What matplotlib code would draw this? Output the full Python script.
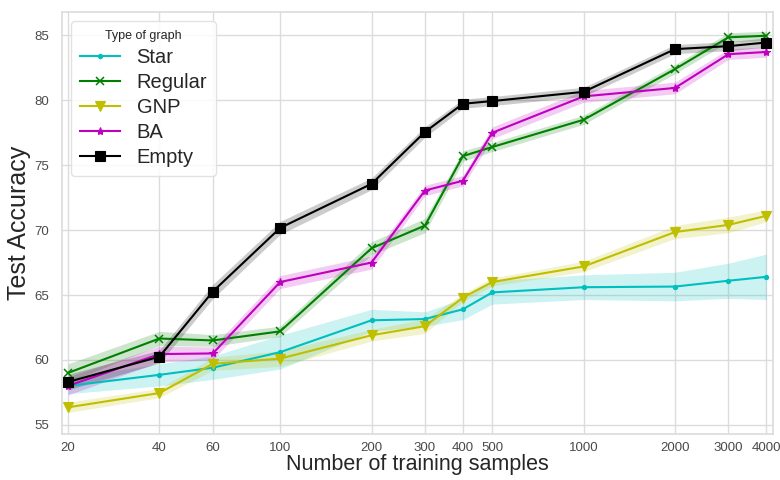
import matplotlib
matplotlib.use("Agg")
import matplotlib.pyplot as plt
from matplotlib.ticker import FixedLocator, FixedFormatter, NullLocator
import numpy as np

# Training-set sizes
n_samples = [20, 40, 60, 100, 200, 300, 400, 500, 1000, 2000, 3000, 4000]

# Mean test accuracy per graph type
star_mean = [58.0, 58.85, 59.4, 60.6, 63.05, 63.15, 63.9, 65.2, 65.6, 65.65, 66.1, 66.4]
regular_mean = [59.0, 61.65, 61.5, 62.2, 68.6, 70.35, 75.7, 76.4, 78.5, 82.4, 84.85, 84.97]
gnp_mean = [56.35, 57.45, 59.7, 60.1, 61.9, 62.6, 64.8, 66.0, 67.2, 69.85, 70.4, 71.1]
ba_mean = [58.0, 60.45, 60.5, 66.0, 67.5, 73.05, 73.8, 77.5, 80.3, 80.95, 83.55, 83.72]
empty_mean = [58.3, 60.25, 65.27, 70.17, 73.56, 77.56, 79.73, 79.94, 80.65, 83.94, 84.17, 84.45]

# Spread (half-width of the shaded band)
star_spread = [0.6, 0.85, 0.9, 1.3, 0.85, 0.55, 0.8, 0.9, 0.95, 1.1, 1.35, 1.75]
regular_spread = [0.7, 0.55, 0.45, 0.4, 0.5, 0.55, 0.4, 0.35, 0.35, 0.35, 0.35, 0.35]
gnp_spread = [0.4, 0.35, 0.5, 0.6, 0.45, 0.55, 0.3, 0.3, 0.4, 0.5, 0.6, 0.45]
ba_spread = [0.7, 0.6, 0.5, 0.5, 0.5, 0.4, 0.4, 0.45, 0.45, 0.45, 0.4, 0.4]
empty_spread = [0.6, 0.5, 0.55, 0.5, 0.45, 0.4, 0.35, 0.35, 0.35, 0.35, 0.35, 0.35]

labels = ["Star", "Regular", "GNP", "BA", "Empty"]
means = [star_mean, regular_mean, gnp_mean, ba_mean, empty_mean]
spreads = [star_spread, regular_spread, gnp_spread, ba_spread, empty_spread]
colors = ["c", "g", "y", "m", "k"]
markers = [".", "x", "v", "*", "s"]
msizes = [6, 6, 6.5, 6, 6.5]

plt.rcParams["font.family"] = ["Liberation Sans", "DejaVu Sans"]

fig = plt.figure(figsize=(7.8, 4.8), dpi=100)
ax = fig.add_axes([0.0795, 0.096, 0.912, 0.879])
ax.set_facecolor("white")

x = np.array(n_samples, dtype=float)
for lab, m, s, c, mk, ms in zip(labels, means, spreads, colors, markers, msizes):
    m = np.array(m)
    s = np.array(s)
    ax.fill_between(x, m - s, m + s, color=c, alpha=0.2, linewidth=0)
    ax.plot(x, m, color=c, marker=mk, markersize=ms, linewidth=1.5,
            markeredgewidth=1.1 if mk == "x" else 0.8, label=lab)

ax.set_xscale("log")
ax.set_xlim(19.1, 4220)
ax.set_ylim(54.3, 86.8)
ax.xaxis.set_major_locator(FixedLocator(n_samples))
ax.xaxis.set_major_formatter(FixedFormatter([str(v) for v in n_samples]))
ax.xaxis.set_minor_locator(NullLocator())
ax.set_yticks([55, 60, 65, 70, 75, 80, 85])

ax.grid(True, color="#dcdcdc", linewidth=1.0)
ax.set_axisbelow(True)
for sp in ax.spines.values():
    sp.set_color("#dcdcdc")
    sp.set_linewidth(1.2)

ax.tick_params(axis="both", length=0, labelsize=9.5, labelcolor="#4a4a4a")
ax.tick_params(axis="x", pad=5.5)
ax.tick_params(axis="y", pad=9)

ax.set_xlabel("Number of training samples", fontsize=15.5, color="#262626", labelpad=0.5)
ax.set_ylabel("Test Accuracy", fontsize=18, color="#262626", labelpad=3)

leg = ax.legend(title="Type of graph", loc="upper left", fontsize=14.5,
                title_fontsize=9, frameon=True, fancybox=True,
                borderaxespad=0.45, handlelength=2.0, labelspacing=0.3,
                borderpad=0.45)
leg.get_frame().set_edgecolor("#dddddd")
leg.get_frame().set_alpha(0.85)
for t in leg.get_texts():
    t.set_color("#262626")
leg.get_title().set_color("#262626")

fig.savefig("out.png", dpi=100)
